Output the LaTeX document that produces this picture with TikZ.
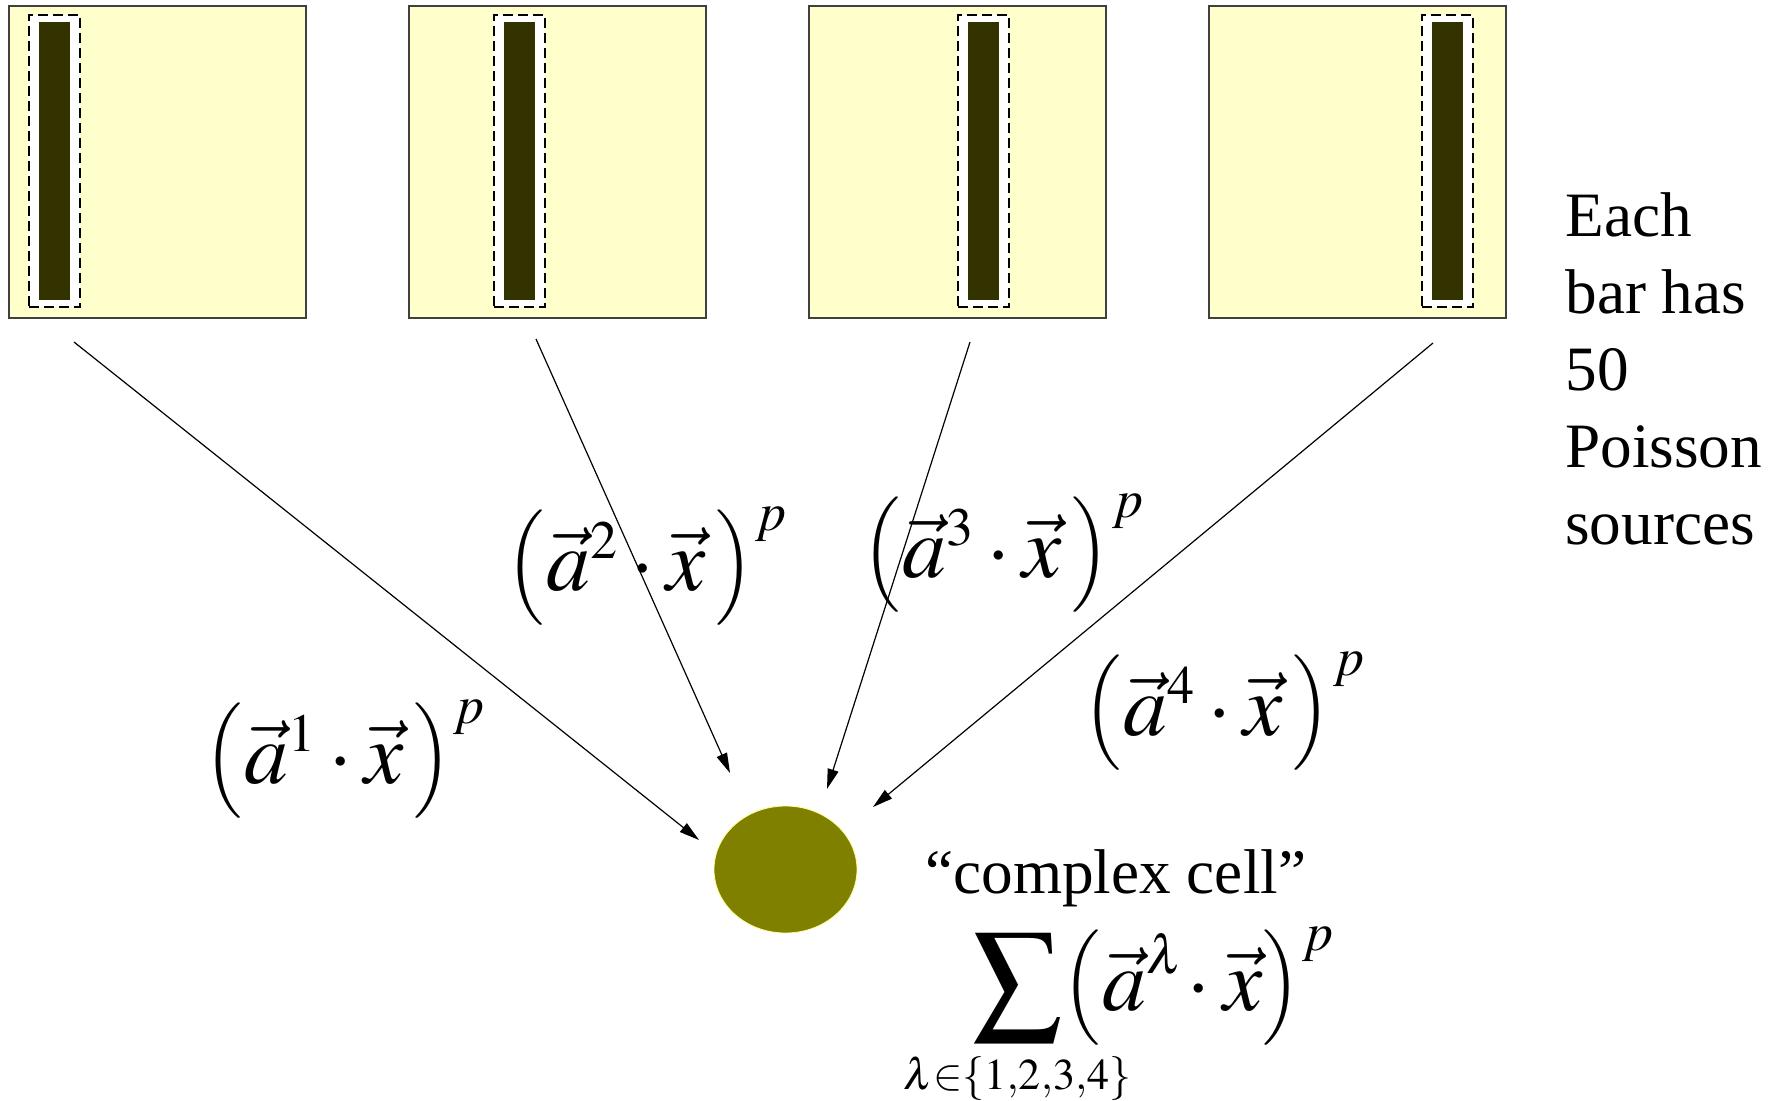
\documentclass[tikz,border=0pt]{standalone}
\usepackage{graphicx}
\usepackage{mathptmx}
\usepackage[no-math]{fontspec}
\setmainfont{Liberation Serif}
\usetikzlibrary{arrows.meta,shapes.geometric}
\DeclareMathSizes{44}{44}{27}{22}
\definecolor{boxfill}{HTML}{FFFFCC}
\definecolor{barfill}{HTML}{333300}
\definecolor{cellfill}{HTML}{808000}
\definecolor{cellrim}{HTML}{FFFF99}
\newcommand{\sizedpar}[1]{\raisebox{-0.4em}{\resizebox*{!}{1.31em}{\raisebox{\depth}{$\left#1\vrule height 1.1em depth 0.4em width 0pt\right.$}}}}
\newcommand{\lpar}{\mathopen{\sizedpar(}}
\newcommand{\rpar}{\mathclose{\sizedpar)}}
\newcommand{\dotlbl}[1]{$\lpar\vec{a}^{#1}\cdot\vec{x}\mkern2mu\rpar^{p}$}
\begin{document}
\begin{tikzpicture}[x=0.5pt,y=-0.5pt,
  panel/.style={draw=black!75,line width=0.75pt,fill=boxfill,inner sep=0pt,outer sep=0pt,
     minimum width=148.5pt,minimum height=156pt,anchor=north west},
  dashbox/.style={draw=black,dash pattern=on 5pt off 2.5pt,line width=0.7pt,fill=white,
     inner sep=0pt,outer sep=0pt,minimum width=25.5pt,minimum height=146pt,anchor=north west},
  barbox/.style={fill=barfill,inner sep=0pt,outer sep=0pt,minimum width=15.5pt,minimum height=139pt},
  conn/.style={line width=0.6pt,-{Triangle[length=10pt,width=5.5pt]}},
  cell/.style={ellipse,fill=cellfill,draw=cellrim,line width=0.4pt,minimum width=71.5pt,minimum height=63.5pt,inner sep=0pt},
  mathlbl/.style={inner sep=0pt,anchor=base,font=\fontsize{44}{50}\selectfont},
  txt/.style={inner sep=0pt,font=\fontsize{31.6}{38.5}\selectfont}]
\useasboundingbox (0,0) rectangle (1774,1100);
% panels
\node[panel] (p1) at (9,6) {};
\node[panel] (p2) at (409,6) {};
\node[panel] (p3) at (809,6) {};
\node[panel] (p4) at (1209,6) {};
% dashed windows
\node[dashbox] (d1) at (29,15) {};
\node[dashbox] (d2) at (494,15) {};
\node[dashbox] (d3) at (958,15) {};
\node[dashbox] (d4) at (1422,15) {};
% bars
\node[barbox] (b1) at (d1.center) {};
\node[barbox] (b2) at (d2.center) {};
\node[barbox] (b3) at (d3.center) {};
\node[barbox] (b4) at (d4.center) {};
% cell
\node[cell] (cell) at (785.5,869.5) {};
% connector ends
\coordinate (s1) at (74,342);
\coordinate (s2) at (536,339);
\coordinate (s3) at (970,342);
\coordinate (s4) at (1433,343);
\coordinate (e1) at (699,840);
\coordinate (e2) at (730,773);
\coordinate (e3) at (827,789);
\coordinate (e4) at (873,807);
\draw[conn] (s1) -- (e1);
\draw[conn] (s2) -- (e2);
\draw[conn] (s3) -- (e3);
\draw[conn] (s4) -- (e4);
% labels
\node[mathlbl] (l1) at (345,783) {\dotlbl{1}};
\node[mathlbl] (l2) at (647,590) {\dotlbl{2}};
\node[mathlbl] (l3) at (1003,577) {\dotlbl{3}};
\node[mathlbl] (l4) at (1224,735) {\dotlbl{4}};
\node[txt,anchor=base west] (cc) at (925,893) {``complex cell''};
\node[mathlbl,anchor=base west] (sum) at (972,1010) {$\displaystyle\sum\limits_{\hbox to 0pt{\hss\raisebox{3pt}{\fontsize{22}{22}\selectfont$\lambda\mathord{\in}\{1{,}2{,}3{,}4\}$}\hss}}\lpar\vec{a}^{\lambda}\mkern-2mu\cdot\vec{x}\rpar^{p}$};
\node[txt,align=left,anchor=north west] (note) at (1565,192) {Each\\bar has\\50\\Poisson\\sources};
\end{tikzpicture}
\end{document}
